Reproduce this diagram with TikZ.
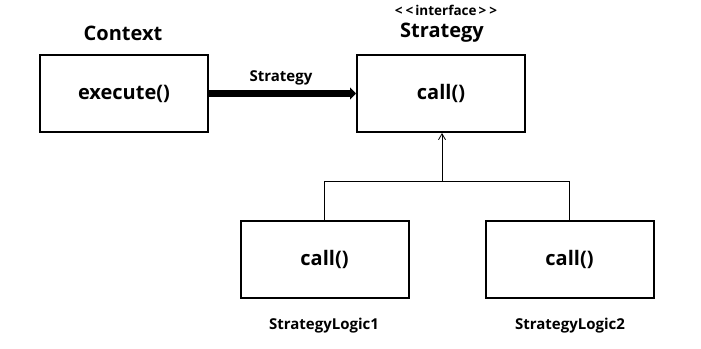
\documentclass[tikz,border=0pt]{standalone}
\usepackage{fontspec}
\setmainfont{Open Sans}
\usetikzlibrary{arrows.meta}
\begin{document}
\begin{tikzpicture}[x=1pt,y=-1pt,
  classbox/.style={draw,line width=2pt,minimum width=168pt,minimum height=77pt,inner sep=0pt,font=\bfseries\fontsize{20}{23}\selectfont},
  title/.style={font=\bfseries\fontsize{20}{23}\selectfont,inner sep=0pt},
  small/.style={font=\bfseries\fontsize{15}{18}\selectfont,inner sep=0pt},
  tiny/.style={font=\bfseries\fontsize{13.5}{16}\selectfont,inner sep=0pt},
  inherit/.style={line width=0.8pt}]
\useasboundingbox (0,0) rectangle (701,348);
\node[classbox] (ctx) at (124,93.5) {execute()};
\node[classbox] (str) at (441,93.5) {call()};
\node[classbox] (sl1) at (324.5,259) {call()};
\node[classbox] (sl2) at (569.5,259) {call()};
\node[title] (ctxt) at (123,33) {Context};
\node[title] (strt) at (442,33) {Strategy};
\node[tiny] (intf) at (446,10) {<\kern3pt<\kern2pt interface\kern2pt>\kern3pt>};
\node[small] (lab) at (281,78) {Strategy};
\node[small] (sl1t) at (324,326) {StrategyLogic1};
\node[small] (sl2t) at (570,326) {StrategyLogic2};
\coordinate (j) at (442,181);
\coordinate (j1) at (sl1.north |- j);
\coordinate (j2) at (sl2.north |- j);
\draw[line width=7pt,-{Triangle[length=6pt,width=12pt]}] (ctx.east) -- (str.west);
\draw[inherit] (sl1.north) -- (j1) -- (j2) -- (sl2.north);
\draw[inherit,-{Straight Barb[length=6pt,width=7pt]}] (j) -- (j |- str.south);
\end{tikzpicture}
\end{document}
